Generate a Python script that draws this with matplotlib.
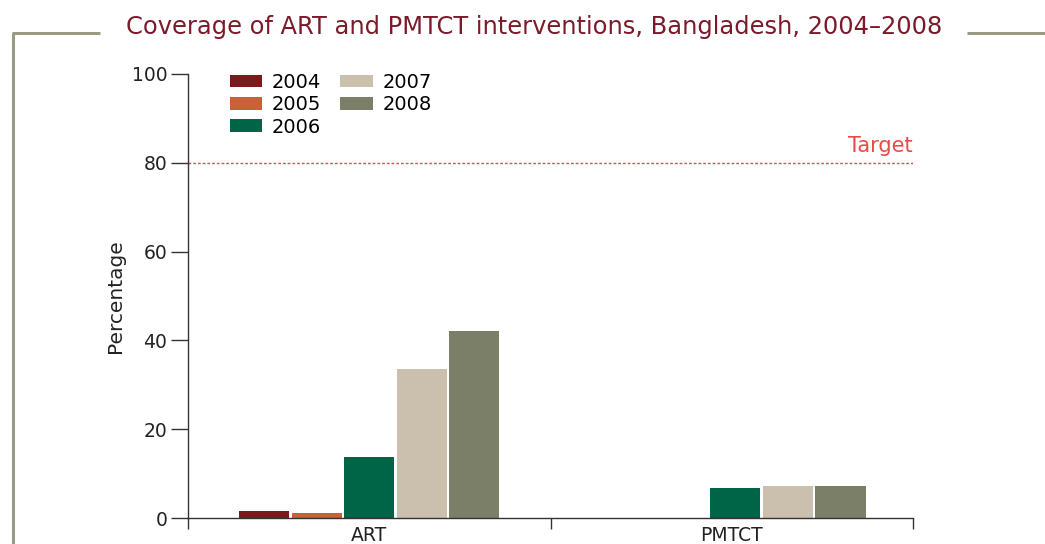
import matplotlib
matplotlib.use("Agg")
import matplotlib.pyplot as plt
from matplotlib.lines import Line2D
from matplotlib.patches import Patch
import numpy as np

# Coverage values (%) by intervention and year
categories = ["ART", "PMTCT"]
years = ["2004", "2005", "2006", "2007", "2008"]
art = [1.6, 1.1, 13.7, 33.6, 42.1]
pmtct = [0.0, 0.0, 6.8, 7.2, 7.2]
target = 80

colors = ["#7a1a1c", "#c8603a", "#006447", "#cbbfad", "#7b7f68"]
title_color = "#7a1a2a"
frame_color = "#9a9a85"
axis_color = "#333333"

plt.rcParams["font.family"] = ["DejaVu Sans"]

fig = plt.figure(figsize=(10.45, 5.44), dpi=100)
ax = fig.add_axes([188 / 1045, 1 - 518 / 544, (913 - 188) / 1045, (518 - 74) / 544])

centers = np.array([0.5, 1.5])
step = 0.145
width = 0.138
offsets = (np.arange(len(years)) - 2) * step
values = [art, pmtct]

for j, year in enumerate(years):
    for i, cat in enumerate(categories):
        v = values[i][j]
        if v > 0:
            ax.bar(centers[i] + offsets[j] + (0.01 if i == 1 else 0.0), v,
                   width=width, color=colors[j], edgecolor="none", zorder=2)

# target reference line
ax.axhline(target, color="#e84a4a", linestyle=(0, (2.0, 1.4)), linewidth=1.0, zorder=1)
ax.text(2.0, target + 1.5, "Target", color="#e84a4a", fontsize=15,
        ha="right", va="bottom")

ax.set_xlim(0, 2)
ax.set_ylim(0, 100)
ax.set_yticks([0, 20, 40, 60, 80, 100])
ax.set_xticks([0, 1, 2])
ax.set_xticklabels([])
ax.set_xticks(centers, minor=True)
ax.set_xticklabels(categories, minor=True, fontsize=13.5, color="#222222")
ax.tick_params(axis="x", which="minor", length=0, pad=6)
ax.tick_params(axis="x", which="major", length=8, width=1.0, color=axis_color, direction="out")
ax.tick_params(axis="y", length=12, width=1.0, color=axis_color, labelsize=13.5,
               labelcolor="#222222", pad=3)

for s in ["top", "right"]:
    ax.spines[s].set_visible(False)
for s in ["left", "bottom"]:
    ax.spines[s].set_color(axis_color)
    ax.spines[s].set_linewidth(1.0)

ax.set_ylabel("Percentage", fontsize=14.5, color="#222222", labelpad=5)

handles = [Patch(facecolor=c, edgecolor="none") for c in colors]
leg = ax.legend(handles, years, ncol=2, loc="upper left", bbox_to_anchor=(0.047, 1.02),
                frameon=False, fontsize=14, handlelength=1.65, handleheight=0.6,
                handletextpad=0.5, labelspacing=0.17, columnspacing=1.0, borderaxespad=0)

# title and surrounding frame
fig.text(534 / 1045, 1 - 27 / 544, "Coverage of ART and PMTCT interventions, Bangladesh, 2004\u20132008",
         color=title_color, fontsize=17.4, ha="center", va="center")
fy = 1 - 33 / 544
fig.add_artist(Line2D([13 / 1045, 13 / 1045], [0, fy], color=frame_color, lw=2.2,
                      solid_capstyle="butt", transform=fig.transFigure))
fig.add_artist(Line2D([12 / 1045, 100 / 1045], [fy, fy], color=frame_color, lw=2.2,
                      solid_capstyle="butt", transform=fig.transFigure))
fig.add_artist(Line2D([967 / 1045, 1.0], [fy, fy], color=frame_color, lw=2.2,
                      solid_capstyle="butt", transform=fig.transFigure))

fig.savefig("out.png", dpi=100)
